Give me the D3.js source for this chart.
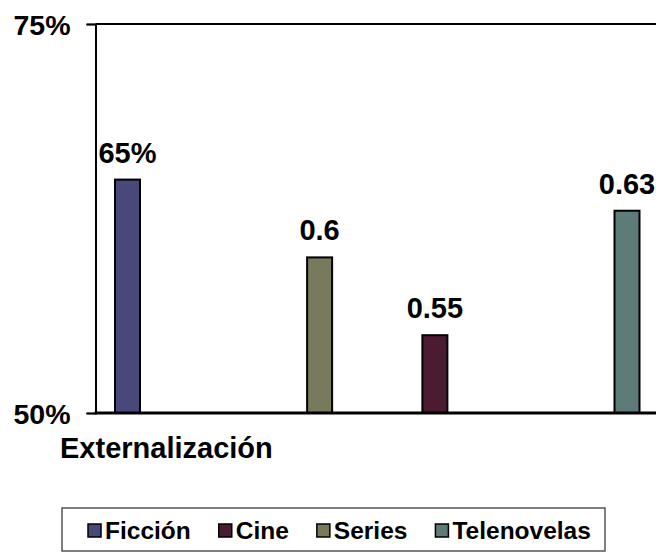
<!DOCTYPE html>
<html>
<head>
<meta charset="utf-8">
<script src="https://cdn.jsdelivr.net/npm/d3@7"></script>
<style>
  html, body { margin: 0; padding: 0; background: #fff; }
  svg { display: block; font-family: "Liberation Sans", Arial, sans-serif; }
</style>
</head>
<body>
<svg id="chart" width="656" height="553"></svg>
<script>
// ---- data ----
const seriesNames = ["Ficción", "Cine", "Series", "Telenovelas"];
const seriesValues = [0.65, 0.55, 0.60, 0.63];
const valueLabels = ["65%", "0.55", "0.6", "0.63"];
const seriesColors = ["#48487a", "#4b1b33", "#79795b", "#5d7b78"];
const yTickValues = [0.50, 0.75];
const yTickLabels = ["50%", "75%"];
const categoryLabel = "Externalización";

// ---- layout ----
const svg = d3.select("#chart");
const plot = { left: 95.5, right: 660, top: 24, bottom: 413 };
// horizontal slot of each series within the category (as laid out in the source)
const barSlot = { "Ficción": 0, "Series": 5, "Cine": 8, "Telenovelas": 13 };
const barWidth = 25;

const y = d3.scaleLinear().domain([0.50, 0.75]).range([plot.bottom, plot.top]);
const x = d3.scaleLinear().domain([0, 13]).range([127.5, 627]);

const data = seriesNames.map((n, i) => ({
  name: n, value: seriesValues[i], label: valueLabels[i], color: seriesColors[i]
}));

// bars
svg.append("g").selectAll("rect").data(data).join("rect")
  .attr("x", d => x(barSlot[d.name]) - barWidth / 2)
  .attr("width", barWidth)
  .attr("y", d => y(d.value))
  .attr("height", d => y(0.50) - y(d.value))
  .attr("fill", d => d.color)
  .attr("stroke", "#000")
  .attr("stroke-width", 2);

// top border of plot
svg.append("line")
  .attr("x1", plot.left).attr("x2", plot.right)
  .attr("y1", plot.top).attr("y2", plot.top)
  .attr("stroke", "#000").attr("stroke-width", 2);

// y axis
const yAxis = d3.axisLeft(y).tickValues(yTickValues)
  .tickFormat(d => yTickLabels[yTickValues.indexOf(d)])
  .tickSize(9).tickPadding(16);
const gy = svg.append("g").attr("transform", `translate(${plot.left},0)`).call(yAxis);
gy.select(".domain").attr("stroke", "#000").attr("stroke-width", 2);
gy.selectAll(".tick line").attr("stroke", "#000").attr("stroke-width", 1.5);
gy.selectAll(".tick text")
  .attr("font-family", "Liberation Sans, Arial, sans-serif")
  .attr("font-size", 28.5).attr("font-weight", "bold").attr("fill", "#000")
  .attr("dy", "0.36em");

// x axis baseline
svg.append("line")
  .attr("x1", plot.left - 1).attr("x2", plot.right)
  .attr("y1", plot.bottom).attr("y2", plot.bottom)
  .attr("stroke", "#000").attr("stroke-width", 3);

// category label
svg.append("text")
  .attr("x", 60).attr("y", 458)
  .attr("font-size", 29).attr("font-weight", "bold").attr("fill", "#000")
  .text(categoryLabel);

// value labels
svg.append("g").selectAll("text").data(data).join("text")
  .attr("x", d => x(barSlot[d.name]))
  .attr("y", d => y(d.value) - 17)
  .attr("text-anchor", "middle")
  .attr("font-size", 29).attr("font-weight", "bold").attr("fill", "#000")
  .text(d => d.label);

// legend
const legend = svg.append("g");
legend.append("rect")
  .attr("x", 62).attr("y", 508).attr("width", 543).attr("height", 43)
  .attr("fill", "#fff").attr("stroke", "#555").attr("stroke-width", 1.5);
let lx = 88;
data.forEach(d => {
  legend.append("rect")
    .attr("x", lx).attr("y", 524).attr("width", 13).attr("height", 13)
    .attr("fill", d.color).attr("stroke", "#000").attr("stroke-width", 1.5);
  const t = legend.append("text")
    .attr("x", lx + 17).attr("y", 539)
    .attr("font-size", 24.5).attr("font-weight", "bold").attr("fill", "#000")
    .text(d.name);
  lx += 17 + t.node().getComputedTextLength() + 28;
});
</script>
</body>
</html>
